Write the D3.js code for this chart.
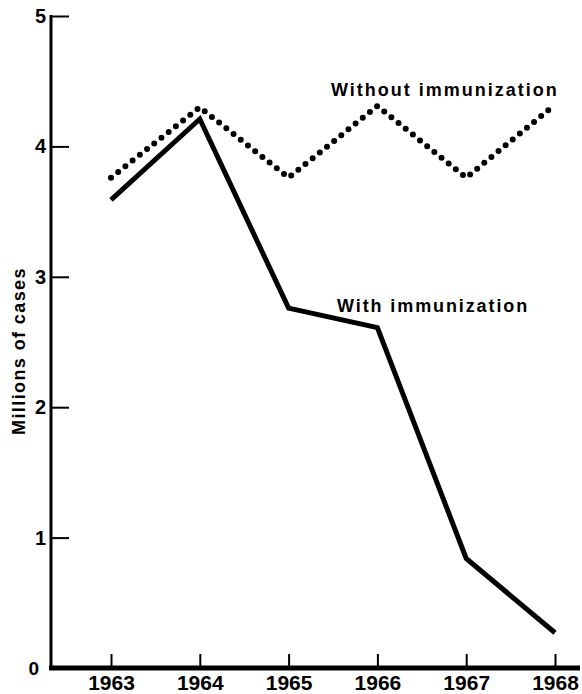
<!DOCTYPE html>
<html>
<head>
<meta charset="utf-8">
<script src="https://cdn.jsdelivr.net/npm/d3@7"></script>
<style>
  body { margin: 0; background: #fff; }
  text { font-family: "Liberation Sans", Arial, sans-serif; font-weight: bold; fill: #000; }
</style>
</head>
<body>
<div id="chart"></div>
<script>
// data
var years = [1963, 1964, 1965, 1966, 1967, 1968];
var withImmunization = [3.59, 4.21, 2.76, 2.61, 0.84, 0.27];
var withoutImmunization = [3.76, 4.30, 3.76, 4.31, 3.76, 4.32];
var yTicks = [0, 1, 2, 3, 4, 5];

var width = 582;
var height = 694;
var margin = { top: 16, right: 2, bottom: 26, left: 51 };

var svg = d3.select("#chart").append("svg")
    .attr("width", width)
    .attr("height", height);

var x = d3.scaleLinear()
    .domain([1963, 1968])
    .range([111, 555]);

var y = d3.scaleLinear()
    .domain([0, 5])
    .range([height - margin.bottom, margin.top]);

// y axis, ticks pointing inward
var yAxis = svg.append("g")
    .attr("transform", "translate(" + margin.left + ",0)")
    .call(d3.axisLeft(y)
        .tickValues(yTicks.filter(function (d) { return d > 0; }))
        .tickSizeInner(-18)
        .tickSizeOuter(0)
        .tickPadding(5)
        .tickFormat(d3.format("d")));
yAxis.select(".domain")
    .attr("stroke-width", 3)
    .attr("d", "M0," + (margin.top - 1) + "V" + y(0));
yAxis.selectAll(".tick line").attr("stroke-width", 2);
yAxis.selectAll(".tick text")
    .style("font-size", "20px");

// the zero label sits a bit further out
svg.append("text")
    .attr("x", margin.left - 12)
    .attr("y", y(0) + 7)
    .attr("text-anchor", "end")
    .style("font-size", "19px")
    .text(yTicks[0]);

// x axis, ticks pointing up
var xAxis = svg.append("g")
    .attr("transform", "translate(0," + y(0) + ")")
    .call(d3.axisBottom(x)
        .tickValues(years)
        .tickSizeInner(-14)
        .tickSizeOuter(0)
        .tickPadding(7)
        .tickFormat(d3.format("d")));
xAxis.select(".domain").remove();
xAxis.selectAll(".tick line").attr("stroke-width", 2);
xAxis.selectAll(".tick text")
    .style("font-size", "21px");

svg.append("line")
    .attr("x1", margin.left - 2)
    .attr("x2", width - margin.right)
    .attr("y1", y(0))
    .attr("y2", y(0))
    .attr("stroke", "#000")
    .attr("stroke-width", 5);

// y title
svg.append("text")
    .attr("transform", "translate(25," + 351 + ") rotate(-90)")
    .attr("text-anchor", "middle")
    .style("font-size", "18px")
    .style("letter-spacing", "1.4px")
    .text("Millions of cases");

var line = d3.line()
    .x(function (d, i) { return x(years[i]); })
    .y(function (d) { return y(d); });

svg.append("path")
    .datum(withoutImmunization)
    .attr("d", line)
    .attr("fill", "none")
    .attr("stroke", "#000")
    .attr("stroke-width", 6)
    .attr("stroke-linecap", "round")
    .attr("stroke-dasharray", "0 9.2");

svg.append("path")
    .datum(withImmunization)
    .attr("d", line)
    .attr("fill", "none")
    .attr("stroke", "#000")
    .attr("stroke-width", 5)
    .attr("stroke-linejoin", "miter");

// line labels
svg.append("text")
    .attr("x", 331)
    .attr("y", 96)
    .style("font-size", "18px")
    .style("letter-spacing", "2px")
    .text("Without immunization");

svg.append("text")
    .attr("x", 337)
    .attr("y", 312)
    .style("font-size", "18px")
    .style("letter-spacing", "1.9px")
    .text("With immunization");
</script>
</body>
</html>
